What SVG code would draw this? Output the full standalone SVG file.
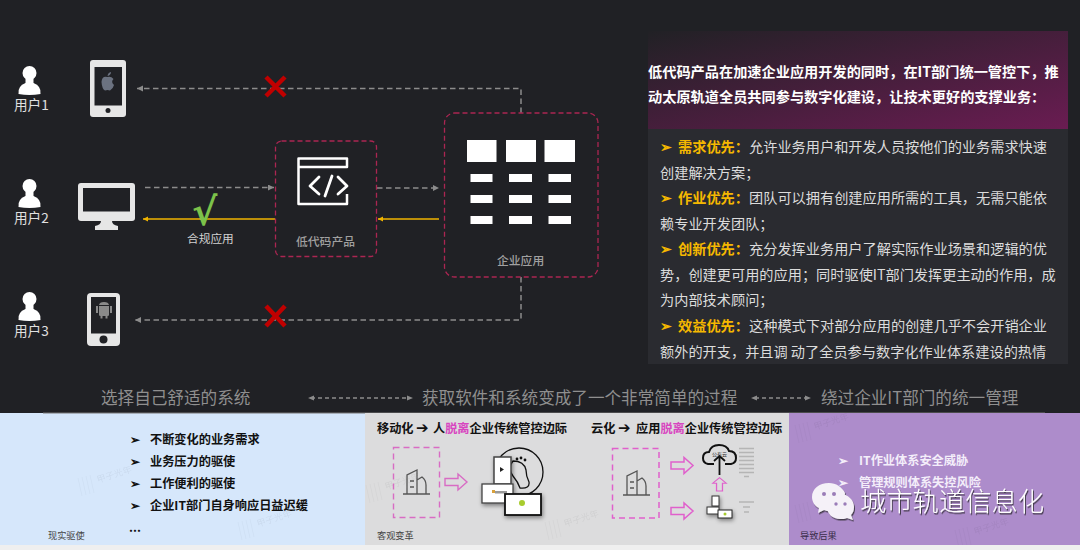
<svg xmlns="http://www.w3.org/2000/svg" width="1080" height="550" viewBox="0 0 1080 550">
<style>
text{font-family:"Noto Sans CJK SC","Liberation Sans",sans-serif}
.conn{fill:none;stroke:#8c8c8c;stroke-width:1.5;stroke-dasharray:5.500 3.500}
.gold{fill:none;stroke:#f0b400;stroke-width:1.600}
.x{fill:none;stroke:#c00000;stroke-width:4.500}
.dev{fill:#e6e6e6}
.box{fill:none;stroke:#ab2652;stroke-width:1.300;stroke-dasharray:5 3}
.usr{font-size:13.600px;fill:#e0e0e0}
.lbl{font-size:11.800px;fill:#a0a0a0;font-weight:500}
.hd{font-size:14.200px;font-weight:700;fill:#fff}
.bd{font-size:14.200px;fill:#dcdcdc}
.y{font-weight:700;fill:#f5b800}
.cap{font-size:16.600px;fill:#8f8f8f}
.bl{font-size:12.200px;font-weight:700;fill:#111}
.ar{font-size:15px;font-weight:700;fill:#111;font-family:"DejaVu Sans",sans-serif}
.wl{font-size:12.200px;font-weight:700;fill:#f4eefa}
.sm{font-size:9.200px;fill:#444}
.pk{fill:none;stroke:#d86cc4;stroke-width:1.400}
.pd{fill:none;stroke:#e060cc;stroke-width:1.500;stroke-dasharray:6 4}
.ps{fill:none;stroke:#e060cc;stroke-width:1.500}
.wm{font-size:9px;fill:#000;opacity:.05}
</style>
<defs>
<linearGradient id="hg" x1="0" y1="0" x2="1" y2="1"><stop offset="0" stop-color="#212125"/><stop offset="1" stop-color="#6a1c52"/></linearGradient>
<marker id="ag" markerUnits="userSpaceOnUse" markerWidth="8" markerHeight="8" refX="6" refY="3" orient="auto"><path d="M0 0L6 3L0 6Z" fill="#8c8c8c"/></marker>
<marker id="ay" markerUnits="userSpaceOnUse" markerWidth="8" markerHeight="8" refX="5" refY="2.500" orient="auto"><path d="M0 0L5 2.500L0 5Z" fill="#f0b400"/></marker>
<filter id="sh" x="-20%" y="-20%" width="150%" height="150%"><feDropShadow dx="1" dy="1.500" stdDeviation="0.600" flood-color="#222" flood-opacity=".75"/></filter>
<filter id="bs" x="-30%" y="-30%" width="170%" height="170%"><feDropShadow dx="1" dy="2" stdDeviation="2" flood-color="#000" flood-opacity=".45"/></filter>
<path id="parrow" d="M0 -3.500H13V-8L22 0L13 8V3.500H0Z"/>
<g id="bld" fill="none" stroke="#555" stroke-width="1.300"><path d="M-12 15H15M-8 15V-4L2 -9V15M2 1L7 -2Q11 1 11 6V15M-5 2H-1M-5 8H-1"/></g>
<g id="person" fill="#fff"><circle cx="0" cy="-8" r="7"/><rect x="-4" y="-3" width="8" height="6"/><path d="M-11 13Q-12 5 -4 2H4Q12 5 11 13Q0 15 -11 13Z"/></g>
<g id="wmk"><path d="M0 0l4 18M4 -1l4 18M8 -2l4 18M12 -3l4 18" stroke="#000" stroke-width=".6" opacity=".05" fill="none"/><text class="wm" x="20" y="5" transform="rotate(-18 20 5)">甲子光年</text></g>
</defs>
<rect width="1080" height="550" fill="#202125"/>

<g id="connectors">
<path class="conn" d="M521 113V88.500H137" marker-end="url(#ag)"/>
<path class="conn" d="M145 187.500H274" marker-end="url(#ag)"/>
<path class="gold" d="M275 219H143" marker-end="url(#ay)"/>
<path class="conn" d="M377 188H439" marker-end="url(#ag)"/>
<path class="gold" d="M439 219H378" marker-end="url(#ay)"/>
<path class="conn" d="M521 277V320H135" marker-end="url(#ag)"/>
<path class="x" d="M266 77L285 96M285 77L266 96"/>
<path class="x" d="M266 306L285 326M285 306L266 326"/>
</g>

<g id="user1"><use href="#person" x="29.500" y="81"/><text class="usr" x="14" y="110">用户1</text></g>
<g id="user2"><use href="#person" x="29.500" y="194"/><text class="usr" x="14" y="223">用户2</text></g>
<g id="user3"><use href="#person" x="29.500" y="307"/><text class="usr" x="14" y="336">用户3</text></g>

<g id="device-ios">
<rect class="dev" x="90" y="60" width="36" height="57" rx="3"/>
<rect x="94.500" y="67" width="27.500" height="38.500" fill="#202125"/>
<circle cx="108" cy="110.500" r="2.500" fill="#202125"/>
<path d="M107.500 77Q102 75.500 101.500 82Q102 89 105 90.500Q107.500 89.500 110 90.500Q113 89 114 85Q110.500 82 113.500 79Q111 76 107.500 77ZM107.500 76Q108 72.500 111 72Q111 75 107.500 76Z" fill="#6b7280"/>
</g>
<g id="device-desktop">
<rect class="dev" x="78" y="183" width="57" height="38" rx="3"/>
<rect x="83" y="188" width="47" height="23.500" fill="#202125"/>
<path class="dev" d="M101 221H112Q112 225 118 226V230H95V226Q101 225 101 221Z"/>
</g>
<g id="device-android">
<rect class="dev" x="87" y="293" width="33" height="53" rx="4"/>
<rect x="91" y="297" width="25" height="36.500" fill="#202125"/>
<circle cx="103.500" cy="339.500" r="4" fill="#202125"/>
<path d="M99 305Q99.500 302 104 302Q108.500 302 109 305ZM99 306H109V315Q109 316 107.500 316V318.500H105.500V316H102.500V318.500H100.500V316Q99 316 99 315ZM96 306H98V313H96ZM110 306H112V313H110Z" fill="#8a8a8a"/>
</g>

<g id="check">
<text x="192" y="225" font-size="38" font-weight="700" style="font-family:'DejaVu Sans',sans-serif" fill="#7cc24a">√</text>
<text x="187" y="243" font-size="11.700" fill="#d2d2d2">合规应用</text>
</g>

<g id="lowcode">
<rect class="box" x="275.500" y="141" width="101" height="115.500" rx="6"/>
<path d="M347 194V204H298.500V158.500H347V167H298.500" fill="none" stroke="#fff" stroke-width="2.500" stroke-linejoin="round"/>
<path d="M319 177L310 186L319 194M338 177L347 186L338 194M325 196L332 176" fill="none" stroke="#fff" stroke-width="2.800" stroke-linecap="round" stroke-linejoin="round"/>
<text class="lbl" x="296" y="246">低代码产品</text>
</g>

<g id="enterprise" fill="#fff">
<rect class="box" x="444.500" y="113" width="153.500" height="164" rx="10"/>
<rect x="467" y="140" width="29.500" height="22"/><rect x="506" y="140" width="30" height="22"/><rect x="544.500" y="140" width="30.500" height="22"/>
<rect x="470.500" y="174" width="22" height="8"/><rect x="509" y="174" width="23" height="8"/><rect x="548.500" y="174" width="22.500" height="8"/>
<rect x="470.500" y="195" width="22" height="8"/><rect x="509" y="195" width="23" height="8"/><rect x="548.500" y="195" width="22.500" height="8"/>
<rect x="470.500" y="216" width="22" height="8"/><rect x="509" y="216" width="23" height="8"/><rect x="548.500" y="216" width="22.500" height="8"/>
<text class="lbl" x="497" y="265">企业应用</text>
</g>

<g id="info-panel">
<rect x="648" y="31" width="420" height="98" fill="url(#hg)"/>
<rect x="648" y="129" width="420" height="235" fill="#2a2b30"/>
<text class="hd" x="648" y="77">低代码产品在加速企业应用开发的同时，在IT部门统一管控下，推</text>
<text class="hd" x="648" y="102">动太原轨道全员共同参与数字化建设，让技术更好的支撑业务：</text>
<text class="bd" x="660" y="152"><tspan class="y">➢</tspan><tspan class="y" x="678">需求优先：</tspan><tspan x="749">允许业务用户和开发人员按他们的业务需求快速</tspan></text>
<text class="bd" x="660" y="178">创建解决方案；</text>
<text class="bd" x="660" y="203"><tspan class="y">➢</tspan><tspan class="y" x="678">作业优先：</tspan><tspan x="749">团队可以拥有创建应用所需的工具，无需只能依</tspan></text>
<text class="bd" x="660" y="229">赖专业开发团队；</text>
<text class="bd" x="660" y="254"><tspan class="y">➢</tspan><tspan class="y" x="678">创新优先：</tspan><tspan x="749">充分发挥业务用户了解实际作业场景和逻辑的优</tspan></text>
<text class="bd" x="660" y="280">势，创建更可用的应用；同时驱使IT部门发挥更主动的作用，成</text>
<text class="bd" x="660" y="305">为内部技术顾问；</text>
<text class="bd" x="660" y="331"><tspan class="y">➢</tspan><tspan class="y" x="678">效益优先：</tspan><tspan x="749">这种模式下对部分应用的创建几乎不会开销企业</tspan></text>
<text class="bd" x="660" y="357">额外的开支，并且调 动了全员参与数字化作业体系建设的热情</text>
</g>

<g id="captions">
<text class="cap" x="101" y="404">选择自己舒适的系统</text>
<text class="cap" x="422" y="404">获取软件和系统变成了一个非常简单的过程</text>
<text class="cap" x="821" y="404">绕过企业IT部门的统一管理</text>
<path d="M311 398H410M755 398H808" fill="none" stroke="#8c8c8c" stroke-width="1.400" stroke-dasharray="4 3"/>
<path d="M308 398L314 395.500V400.500ZM413 398L407 395.500V400.500ZM751 398L757 395.500V400.500ZM811 398L805 395.500V400.500Z" fill="#8c8c8c"/>
</g>

<g id="panel-real">
<rect x="0" y="413" width="365" height="132" fill="#d6e7fb"/>
<path d="M43 413H1045" stroke="#777" stroke-width="1"/>
<text class="bl" x="130" y="443.500">➢</text><text class="bl" x="150" y="443.500">不断变化的业务需求</text>
<text class="bl" x="130" y="465.500">➢</text><text class="bl" x="150" y="465.500">业务压力的驱使</text>
<text class="bl" x="130" y="487.500">➢</text><text class="bl" x="150" y="487.500">工作便利的驱使</text>
<text class="bl" x="130" y="509.500">➢</text><text class="bl" x="150" y="509.500">企业IT部门自身响应日益迟缓</text>
<text class="bl" x="129" y="532">...</text>
<text class="sm" x="48" y="539">现实驱使</text>
<use href="#wmk" x="78" y="478"/><use href="#wmk" x="238" y="522"/>
</g>

<g id="panel-change">
<rect x="365" y="413" width="424" height="132" fill="#dcdcdd"/>
<text class="bl" x="377" y="432.500">移动化</text><text class="ar" x="416" y="433">➔</text><text class="bl" x="433" y="432.500">人<tspan fill="#d846c0">脱离</tspan>企业传统管控边际</text>
<text class="bl" x="591" y="432.500">云化</text><text class="ar" x="618" y="433">➔</text><text class="bl" x="636" y="432.500">应用<tspan fill="#d846c0">脱离</tspan>企业传统管控边际</text>
<rect class="pk" x="393.500" y="447.500" width="46" height="70" stroke-dasharray="6 4"/>
<use href="#bld" x="415" y="479"/>
<use href="#parrow" class="pk" x="445" y="482"/>
<circle cx="519" cy="472" r="24" fill="none" stroke="#111" stroke-width="1.300"/>
<path d="M513 461Q507 468 513 476Q518 482 520 488Q530 489 529 482Q526 476 526 470Q524 461 513 461Z" fill="none" stroke="#111" stroke-width="1.300"/>
<circle cx="517" cy="459" r="1.400" fill="#111"/><circle cx="521" cy="458" r="1.400" fill="#111"/><circle cx="525" cy="460" r="1.400" fill="#111"/>
<g filter="url(#bs)">
<rect x="494" y="457" width="17" height="27" fill="#fff" stroke="#444" stroke-width="1.500"/>
<path d="M500 467l4 2.500l-4 2.500z" fill="#222"/>
<rect x="482" y="484" width="31" height="19" fill="#fff" stroke="#444" stroke-width="1.300"/>
<rect x="492" y="490" width="3" height="3" fill="#d9a13b"/><rect x="495" y="491" width="12" height="2.500" fill="#999"/>
<rect x="505" y="494" width="36" height="21" fill="#fff" stroke="#111" stroke-width="1.800"/>
<circle cx="522" cy="503" r="3" fill="#a8cc2e"/>
</g>
<use href="#wmk" x="366" y="485"/><use href="#wmk" x="545" y="522"/>
<rect class="pd" x="612.500" y="448.500" width="46.500" height="69.500"/>
<use href="#bld" x="635" y="480"/>
<use href="#parrow" class="ps" x="671" y="465.500"/>
<use href="#parrow" class="ps" x="671" y="511"/>
<use href="#parrow" class="ps" transform="translate(719.500 491) rotate(-90) scale(.6 .85)"/>
<path d="M714 464H708Q703 463 703 458Q703 452 709 452Q711 445 719 445Q727 445 729 451Q736 451 736 458Q736 463 731 464H725" fill="none" stroke="#111" stroke-width="2"/>
<path d="M719.500 475V456M714 461L719.500 456L725 461" fill="none" stroke="#111" stroke-width="1.800"/>
<text x="712" y="456" font-size="5" fill="#333">公有云</text>
<path d="M739 448.500H754M739 452.500H754M739 456.500H754M739 460.500H754M739 464.500H754M739 468.500H754M739 472.500H754M744 476.500H749M739 502H754M743 507H750M744 512H749" stroke="#b5b5b5" stroke-width="1.300" fill="none"/>
<g filter="url(#bs)">
<rect x="712" y="496" width="7" height="10" fill="#fff" stroke="#333"/>
<rect x="707" y="507" width="12" height="7" fill="#fff" stroke="#333"/>
<rect x="718" y="510" width="14" height="8" fill="#fff" stroke="#222"/>
<circle cx="725" cy="514" r="1.500" fill="#a8cc2e"/>
</g>
<text class="sm" x="377" y="539">客观变革</text>
</g>

<g id="panel-result">
<rect x="789" y="413" width="291" height="132" fill="#ad8ccb"/>
<text class="wl" x="838" y="464.500">➢</text><text class="wl" x="859" y="464.500">IT作业体系安全威胁</text>
<text class="wl" x="838" y="486.500">➢</text><text class="wl" x="859" y="486.500">管理规则体系失控风险</text>
<text class="sm" x="800" y="539" style="fill:#3a2d4a">导致后果</text>
<use href="#wmk" x="795" y="505"/><use href="#wmk" x="955" y="530"/><use href="#wmk" x="795" y="425"/>
</g>
<rect x="0" y="545" width="1080" height="5" fill="#efefef"/>

<g id="brand">
<g filter="url(#sh)">
<path d="M829 483C819 483 812 489 812 497C812 502 815 506 819 508L818 513L824 510C826 511 828 511 830 511C838 505 845 500 845 493C842 487 836 483 829 483Z" fill="#f5f1f8"/>
<path d="M840 494C831 494 827 501 827 507C827 514 833 519 840 519C843 519 845 519 847 518L853 520L851 515C853 513 854 510 854 507C854 500 848 494 840 494Z" fill="#f5f1f8"/>
</g>
<circle cx="824" cy="494" r="2" fill="#9a7cb8"/><circle cx="834" cy="494" r="2" fill="#9a7cb8"/>
<circle cx="836" cy="504" r="1.700" fill="#9a7cb8"/><circle cx="845" cy="504" r="1.700" fill="#9a7cb8"/>
<text x="860" y="511" font-size="26.300" font-weight="300" fill="#fff" filter="url(#sh)">城市轨道信息化</text>
</g>
</svg>
